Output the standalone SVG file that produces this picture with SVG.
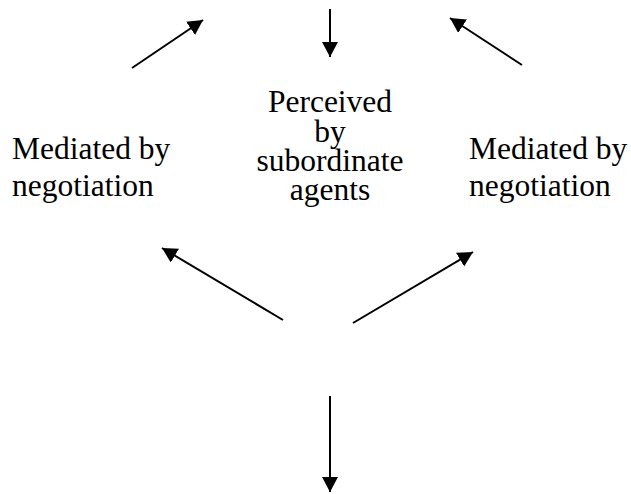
<svg xmlns="http://www.w3.org/2000/svg" width="631" height="494" viewBox="0 0 631 494">
<style>
text{font-family:"Liberation Serif","Times New Roman",serif;font-size:31.5px;fill:#000}
.c line{stroke:#000;stroke-width:2;marker-end:url(#ah)}
</style>
<defs>
<marker id="ah" markerUnits="userSpaceOnUse" markerWidth="17" markerHeight="18" refX="15" refY="8" orient="auto">
<path d="M0,0 L15,8 L0,16 Z" fill="#000"/>
</marker>
</defs>
<rect width="631" height="494" fill="#fff"/>
<g id="connectors" class="c">
<line x1="132" y1="68" x2="203" y2="20"/>
<line x1="330" y1="9" x2="330" y2="57"/>
<line x1="522" y1="65" x2="450" y2="18"/>
<line x1="283" y1="320" x2="162" y2="248"/>
<line x1="353" y1="323" x2="473" y2="252"/>
<line x1="330" y1="396" x2="330" y2="492"/>
</g>
<g id="left-label">
<text x="12" y="159">Mediated by</text>
<text x="12" y="196">negotiation</text>
</g>
<g id="center-label" text-anchor="middle">
<text x="330" y="112">Perceived</text>
<text x="330" y="142">by</text>
<text x="330" y="171">subordinate</text>
<text x="330" y="200">agents</text>
</g>
<g id="right-label">
<text x="469" y="159">Mediated by</text>
<text x="469" y="196">negotiation</text>
</g>
</svg>
